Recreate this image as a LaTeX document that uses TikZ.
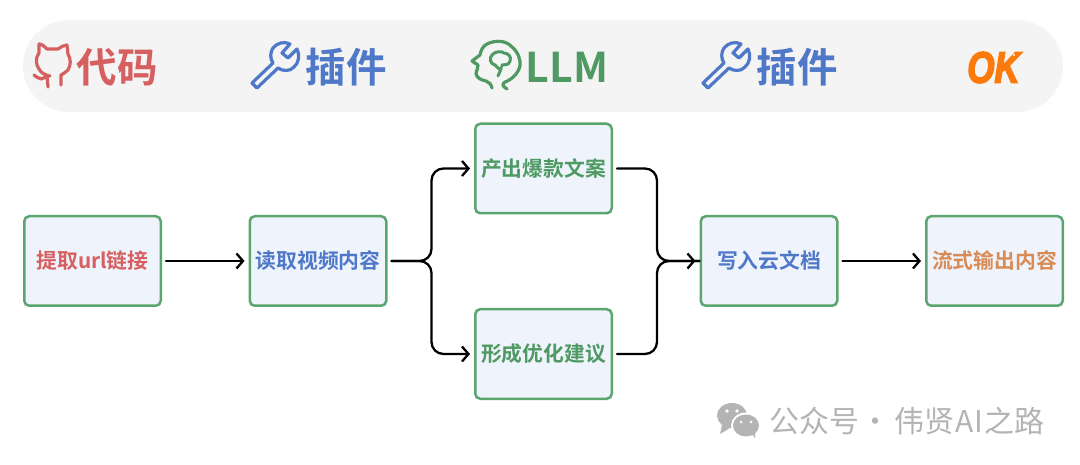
\documentclass[tikz,border=0pt]{standalone}
\usepackage{fontspec}
\usetikzlibrary{arrows.meta,calc}
\setmainfont{Noto Sans CJK SC}[BoldFont={* Bold}]
\newfontfamily\cjkbold{Noto Sans CJK SC Bold}
\newfontfamily\okfont[FakeBold=4]{Liberation Sans Bold Italic}
\definecolor{cred}{HTML}{D65F5F}
\definecolor{cblue}{HTML}{4F78C8}
\definecolor{cgreen}{HTML}{4F9A62}
\definecolor{corange}{HTML}{D98B55}
\definecolor{boxfill}{HTML}{EEF3FC}
\definecolor{boxline}{HTML}{5BA56F}
\definecolor{pillfill}{HTML}{F4F4F4}
\definecolor{wmgray}{HTML}{B4B4B4}
\definecolor{okorange}{HTML}{FB7A0B}
\tikzset{
  flowbox/.style={draw=boxline,fill=boxfill,line width=2.5pt,rounded corners=5pt,
    minimum width=136.5pt,minimum height=89.5pt,inner sep=0pt,
    font=\fontsize{20.8}{21}\selectfont\cjkbold},
  toplabel/.style={inner sep=0pt,font=\fontsize{40.5}{41}\selectfont\cjkbold},
  iconline/.style={line width=3.2pt,line join=round,line cap=round,fill=none},
  flow/.style={draw=black,line width=2.3pt,line cap=round,rounded corners=12pt,
    shorten <=4pt,shorten >=4pt,-{Straight Barb[length=6.5pt,width=15pt,line width=2.3pt]}},
  flowplain/.style={draw=black,line width=2.3pt,line cap=round,rounded corners=12pt,
    shorten <=4pt},
  wrench/.pic={
    \draw[iconline,draw=cblue]
      (273,63) -- (252,83) -- (257,88) -- (278,68)
      .. controls (282,71) and (290,72) .. (294,67)
      .. controls (299,63) and (300,55) .. (297,49)
      -- (288,58) -- (282,53) -- (290,44)
      .. controls (284,41) and (277,43) .. (273,48)
      .. controls (270,52) and (270,59) .. (273,63) -- cycle;
  }
}
\begin{document}
\begin{tikzpicture}[x=1pt,y=-1pt]
\useasboundingbox (0,0) rectangle (1080,465);
\fill[white] (0,0) rectangle (1080,465);
% banner
\node[fill=pillfill,rounded corners=46pt,minimum width=1040pt,minimum height=92pt,inner sep=0pt] (pill) at (543,66) {};
% octocat icon
\draw[iconline,draw=cred]
  (34,75) .. controls (37,78) and (40,78) .. (41,79) .. controls (44,78) and (46,77) .. (47,76) -- (48,87);
\draw[iconline,draw=cred]
  (50,76) .. controls (45,75) and (41,73) .. (39,69)
  .. controls (36,65) and (35,58) .. (39,53)
  -- (39,44) .. controls (42,44) and (45,47) .. (47,49)
  -- (58,49) .. controls (61,47) and (64,45) .. (67,45)
  -- (68,54) .. controls (71,59) and (71,65) .. (68,70)
  .. controls (66,72) and (63,74) .. (61,75) -- (61,85);
\node[toplabel,text=cred] (code) at (117,67) {代码};
% wrenches
\pic at (0,0) {wrench};
\node[toplabel,text=cblue] (plugin1) at (346,67) {插件};
\pic at (451,0) {wrench};
\node[toplabel,text=cblue] (plugin2) at (797,67) {插件};
% head icon
\draw[iconline,draw=cgreen]
  (492,88) .. controls (491,84) and (489,82) .. (486,81)
  .. controls (481,80) and (477,78) .. (476,74)
  .. controls (476,70) and (479,68) .. (478,65)
  -- (472,61) -- (480,55)
  .. controls (481,50) and (483,46) .. (487,44)
  .. controls (495,40) and (506,40) .. (512,47)
  .. controls (518,52) and (521,60) .. (520,66)
  .. controls (518,74) and (511,80) .. (505,82)
  .. controls (502,84) and (502,86) .. (507,89);
\draw[iconline,draw=cgreen,line width=3pt]
  (498,76) -- (501,69) .. controls (497,69) and (497,66) .. (495,65)
  .. controls (490,64) and (489,58) .. (492,55)
  .. controls (495,51) and (502,51) .. (504,53)
  .. controls (508,53) and (512,57) .. (510,61)
  .. controls (509,65) and (505,65) .. (502,65);
\draw[iconline,draw=cgreen,line width=2.4pt] (502,65) -- (501,69);
\node[inner sep=0pt,font=\fontsize{41}{41}\selectfont\cjkbold,text=cgreen] (llm) at (567,67) {\addfontfeature{LetterSpace=2}LLM};
% OK
\node[inner sep=0pt,font=\fontsize{35}{35}\selectfont\okfont,text=okorange] (ok) at (993.5,67.5) {\scalebox{1}[1.25]{OK}};
\fill[white] (1014,55) circle (1.1pt);
% boxes
\node[flowbox,text=cred] (extract) at (92.5,261) {\raisebox{-1pt}{提取url链接}};
\node[flowbox,text=cblue] (read) at (318,261) {\raisebox{-1pt}{读取视频内容}};
\node[flowbox,text=cgreen] (copy) at (543.5,168.5) {\raisebox{-1pt}{产出爆款文案}};
\node[flowbox,text=cgreen] (advice) at (543.5,354) {\raisebox{-1pt}{形成优化建议}};
\node[flowbox,text=cblue] (write) at (769,261) {\raisebox{-1pt}{写入云文档}};
\node[flowbox,text=corange] (stream) at (994.5,261) {\raisebox{-1pt}{流式输出内容}};
% connectors
\draw[flow] (extract.east) -- (read.west);
\draw[flow] (read.east) -- ++(44,0) |- (copy.west);
\draw[flow] (read.east) -- ++(44,0) |- (advice.west);
\draw[flowplain] (copy.east) -- ++(44,0) |- (write.west);
\draw[flowplain] (advice.east) -- ++(44,0) |- (write.west);
\draw[draw=black,line width=2.3pt,shorten >=4pt,-{Straight Barb[length=6.5pt,width=15pt,line width=2.3pt]}] ($(write.west)+(-20,0)$) -- (write.west);
\draw[flow] (write.east) -- (stream.west);
% watermark
\fill[wmgray] (732,415.5) ellipse (15pt and 12.5pt);
\fill[wmgray] (722,425) -- (720,434) -- (730,428) -- cycle;
\fill[white] (746,425.5) ellipse (15pt and 13pt);
\fill[wmgray] (746,425.5) ellipse (13pt and 11pt);
\fill[wmgray] (751,433) -- (755,438) -- (755,431) -- cycle;
\fill[white] (727,411) circle (1.8pt) (737,411) circle (1.8pt) (741,422) circle (1.5pt) (751,422) circle (1.5pt);
\node[anchor=west,inner sep=0pt,text=wmgray,font=\fontsize{30}{30}\selectfont] (brand) at (769,421) {公众号\hspace{1pt}·\hspace{4pt}伟贤\hspace{1pt}A\hspace{1pt}I\hspace{1pt}之路};
\end{tikzpicture}
\end{document}
